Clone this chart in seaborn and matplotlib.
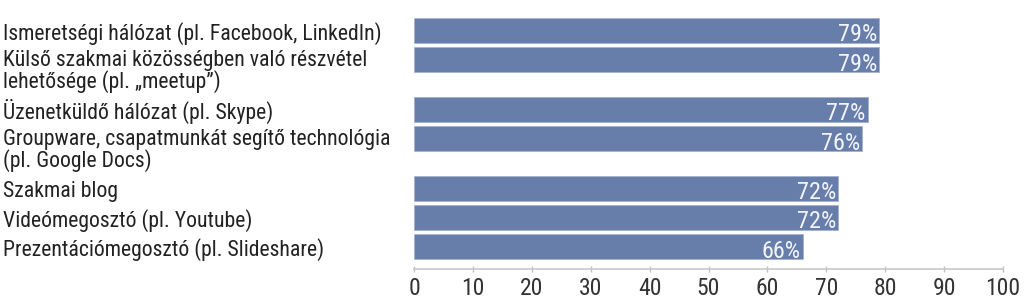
import matplotlib
matplotlib.use("Agg")
import matplotlib.pyplot as plt
import matplotlib.transforms as mtransforms
import seaborn as sns
import pandas as pd

categories = [
    "Ismeretségi hálózat (pl. Facebook, LinkedIn)",
    "Külső szakmai közösségben való részvétel\nlehetősége (pl. „meetup”)",
    "Üzenetküldő hálózat (pl. Skype)",
    "Groupware, csapatmunkát segítő technológia\n(pl. Google Docs)",
    "Szakmai blog",
    "Videómegosztó (pl. Youtube)",
    "Prezentációmegosztó (pl. Slideshare)",
]
values = [79, 79, 77, 76, 72, 72, 66]
xticks = [0, 10, 20, 30, 40, 50, 60, 70, 80, 90, 100]

sns.set_theme(style="white")
FONT = ["Roboto Condensed", "DejaVu Sans"]
plt.rcParams["font.family"] = FONT

# Row layout: rows with two-line labels take extra vertical room
extra = 0.69
rows = []
y = 0.0
for lab in categories:
    rows.append(y)
    y += 1 + extra * (lab.count("\n"))

df = pd.DataFrame({"cat": categories, "value": values, "row": rows})

fig = plt.figure(figsize=(10.24, 3.06), dpi=100)
ax = fig.add_axes([414 / 1024, 1 - 269 / 306, (1003 - 414) / 1024, (269 - 14) / 306])

sns.barplot(data=df, x="value", y="row", orient="h", native_scale=True,
            width=0.85, color="#677eab", saturation=1, edgecolor="#a3b1cf",
            linewidth=0.6, ax=ax)

ax.set_xlim(0, 100)
ax.set_ylim(8.14, -0.56)
ax.set_xticks(xticks)
ax.set_xticklabels([str(t) for t in xticks], fontsize=17, color="#333333")
ax.set_yticks([])
ax.set_xlabel("")
ax.set_ylabel("")
for s in ["top", "right", "left"]:
    ax.spines[s].set_visible(False)
ax.spines["bottom"].set_color("#c8c8c8")
ax.spines["bottom"].set_linewidth(1.2)
ax.tick_params(axis="x", direction="inout", length=4, width=1, color="#c0c0c0",
               pad=4, bottom=True)

# value labels inside bars
for v, r in zip(values, rows):
    ax.annotate(f"{v}%", xy=(v, r), xycoords="data", xytext=(-1.2, -1.5),
                textcoords="offset points", ha="right", va="center_baseline",
                fontsize=17.5, color="#f2f4f8")

# category labels at left: first line sits level with its bar
px = 72 / 100
trans = mtransforms.blended_transform_factory(fig.transFigure, ax.transData)
for lab, r in zip(categories, rows):
    n = lab.count("\n") + 1
    dy = -(9.75 + (n - 1) * 19 + 4.5) * px
    ax.annotate(lab, xy=(3 / 1024, r), xycoords=trans,
                xytext=(0, dy), textcoords="offset points",
                ha="left", va="bottom", fontsize=15.7, color="#222222",
                linespacing=0.92, annotation_clip=False)

fig.savefig("out.png", dpi=100)
